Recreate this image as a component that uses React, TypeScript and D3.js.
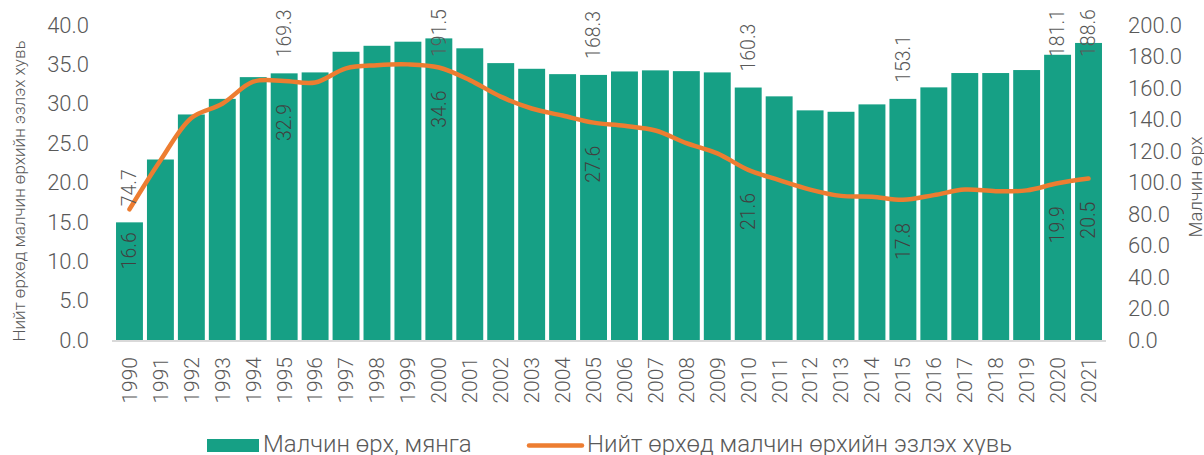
import React, { useEffect, useRef } from 'react';
import * as d3 from 'd3';

const years = [
  '1990', '1991', '1992', '1993', '1994', '1995', '1996', '1997', '1998', '1999',
  '2000', '2001', '2002', '2003', '2004', '2005', '2006', '2007', '2008', '2009',
  '2010', '2011', '2012', '2013', '2014', '2015', '2016', '2017', '2018', '2019',
  '2020', '2021',
];

// herder households, thousand (right axis)
const households = [
  74.7, 114.6, 143.2, 153.1, 166.9, 169.3, 169.9, 183.0, 186.8, 189.4,
  191.5, 185.2, 175.8, 172.2, 168.8, 168.3, 170.5, 171.2, 170.7, 169.9,
  160.3, 154.7, 145.8, 144.9, 149.6, 153.1, 160.4, 169.5, 169.5, 171.4,
  181.1, 188.6,
];

// share of herder households in total, % (left axis)
const share = [
  16.6, 22.8, 28.2, 30.0, 32.8, 32.9, 32.7, 34.5, 34.9, 35.0,
  34.6, 33.0, 30.9, 29.4, 28.5, 27.6, 27.2, 26.6, 25.0, 23.7,
  21.6, 20.3, 19.1, 18.3, 18.2, 17.8, 18.4, 19.1, 18.9, 19.0,
  19.9, 20.5,
];

const labelledYears = ['1990', '1995', '2000', '2005', '2010', '2015', '2020', '2021'];
const leftTicks = [0, 5, 10, 15, 20, 25, 30, 35, 40];
const rightTicks = [0, 20, 40, 60, 80, 100, 120, 140, 160, 180, 200];

const barName = 'Малчин өрх, мянга';
const lineName = 'Нийт өрхөд малчин өрхийн эзлэх хувь';
const leftTitle = 'Нийт өрхөд малчин өрхийн эзлэх хувь';
const rightTitle = 'Малчин өрх';

const GREEN = '#16a085';
const ORANGE = '#ed7d31';
const TEXT = '#595959';
const FONT = 'Roboto, "Noto Sans", sans-serif';

function App() {
  const svgRef = useRef(null);

  useEffect(() => {
    const svg = d3.select(svgRef.current);
    svg.selectAll('*').remove();

    const left = 112;
    const right = 1106;
    const top = 25;
    const bottom = 340;

    const x = d3.scaleBand().domain(years).range([left, right]).padding(0.13);
    const yL = d3.scaleLinear().domain([0, 40]).range([bottom, top]);
    const yR = d3.scaleLinear().domain([0, 200]).range([bottom, top]);

    const g = svg.append('g').attr('font-family', FONT).attr('font-weight', 300);

    // bars
    g.selectAll('rect.bar')
      .data(households)
      .enter()
      .append('rect')
      .attr('class', 'bar')
      .attr('x', (d, i) => x(years[i]))
      .attr('y', d => yR(d))
      .attr('width', x.bandwidth())
      .attr('height', d => bottom - yR(d))
      .attr('fill', GREEN);

    // baseline
    g.append('line')
      .attr('x1', left)
      .attr('x2', right)
      .attr('y1', bottom + 1)
      .attr('y2', bottom + 1)
      .attr('stroke', '#d9d9d9')
      .attr('stroke-width', 2);

    // line
    const line = d3.line()
      .x((d, i) => x(years[i]) + x.bandwidth() / 2)
      .y(d => yL(d))
      .curve(d3.curveCatmullRom);

    g.append('path')
      .datum(share)
      .attr('d', line)
      .attr('fill', 'none')
      .attr('stroke', ORANGE)
      .attr('stroke-width', 4.5)
      .attr('stroke-linecap', 'round')
      .attr('stroke-linejoin', 'round');

    // left axis labels
    g.selectAll('text.yl')
      .data(leftTicks)
      .enter()
      .append('text')
      .attr('x', 89)
      .attr('y', d => yL(d))
      .attr('dy', '0.35em')
      .attr('text-anchor', 'end')
      .attr('font-size', 22)
      .attr('fill', TEXT)
      .text(d => d.toFixed(1));

    // right axis labels
    g.selectAll('text.yr')
      .data(rightTicks)
      .enter()
      .append('text')
      .attr('x', 1128)
      .attr('y', d => yR(d))
      .attr('dy', '0.35em')
      .attr('font-size', 22)
      .attr('fill', TEXT)
      .text(d => d.toFixed(1));

    // year labels
    years.forEach(yr => {
      g.append('text')
        .attr('transform', `translate(${x(yr) + x.bandwidth() / 2},357) rotate(-90)`)
        .attr('dy', '0.35em')
        .attr('text-anchor', 'end')
        .attr('font-size', 21)
        .attr('fill', TEXT)
        .text(yr);
    });

    // data labels
    labelledYears.forEach(yr => {
      const i = years.indexOf(yr);
      const cx = x(yr) + x.bandwidth() / 2;
      const barY = Math.max(yR(households[i]) - 16, 57);
      g.append('text')
        .attr('transform', `translate(${cx},${barY}) rotate(-90)`)
        .attr('dy', '0.35em')
        .attr('font-size', 19.5)
        .attr('fill', TEXT)
        .text(households[i].toFixed(1));

      g.append('text')
        .attr('transform', `translate(${cx},${yL(share[i]) + 23}) rotate(-90)`)
        .attr('dy', '0.35em')
        .attr('text-anchor', 'end')
        .attr('font-size', 19.5)
        .attr('fill', '#404040')
        .text(share[i].toFixed(1));
    });

    // axis titles
    g.append('text')
      .attr('transform', 'translate(19,191) rotate(-90)')
      .attr('dy', '0.35em')
      .attr('text-anchor', 'middle')
      .attr('font-size', 17)
      .attr('fill', TEXT)
      .text(leftTitle);

    g.append('text')
      .attr('transform', 'translate(1196,187) rotate(-90)')
      .attr('dy', '0.35em')
      .attr('text-anchor', 'middle')
      .attr('font-size', 18.5)
      .attr('fill', TEXT)
      .text(rightTitle);

    // legend
    const legend = g.append('g');
    legend.append('rect')
      .attr('x', 207)
      .attr('y', 439)
      .attr('width', 52)
      .attr('height', 13)
      .attr('fill', GREEN);
    legend.append('text')
      .attr('x', 263)
      .attr('y', 452)
      .attr('font-size', 24)
      .attr('fill', TEXT)
      .text(barName);
    legend.append('line')
      .attr('x1', 529)
      .attr('x2', 582)
      .attr('y1', 445.5)
      .attr('y2', 445.5)
      .attr('stroke', ORANGE)
      .attr('stroke-width', 4.5)
      .attr('stroke-linecap', 'round');
    legend.append('text')
      .attr('x', 587)
      .attr('y', 452)
      .attr('font-size', 24)
      .attr('fill', TEXT)
      .text(lineName);
  }, []);

  return (
    <svg
      ref={svgRef}
      width="1204"
      height="455"
      style={{ position: 'absolute', left: 0, top: 0, background: '#fff' }}
    />
  );
}

export default App;
